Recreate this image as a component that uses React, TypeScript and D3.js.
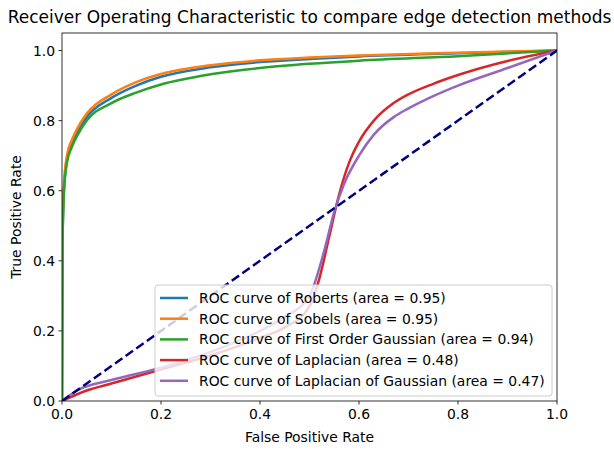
import React from "react";
import * as d3 from "d3";

const xTicks = [0, 0.2, 0.4, 0.6, 0.8, 1.0];
const yTicks = [0, 0.2, 0.4, 0.6, 0.8, 1.0];
const roberts: [number, number][] = [[0,0],[0.001,0.45],[0.004,0.6],[0.01,0.69],[0.02,0.735],[0.03,0.765],[0.05,0.81],[0.1,0.865],[0.15,0.9],[0.2,0.925],[0.3,0.952],[0.4,0.967],[0.5,0.976],[0.6,0.983],[0.8,0.992],[1,1]];
const sobels: [number, number][] = [[0,0],[0.001,0.47],[0.004,0.62],[0.01,0.7],[0.02,0.745],[0.03,0.775],[0.05,0.82],[0.1,0.875],[0.15,0.91],[0.2,0.933],[0.3,0.958],[0.4,0.972],[0.5,0.98],[0.6,0.986],[0.8,0.994],[1,1]];
const firstGauss: [number, number][] = [[0,0],[0.001,0.45],[0.004,0.6],[0.01,0.68],[0.02,0.725],[0.03,0.755],[0.05,0.8],[0.1,0.85],[0.15,0.88],[0.2,0.903],[0.3,0.932],[0.4,0.95],[0.5,0.962],[0.6,0.971],[0.8,0.984],[1,1]];
const laplacian: [number, number][] = [[0,0],[0.05,0.03],[0.1,0.05],[0.2,0.09],[0.3,0.13],[0.4,0.18],[0.45,0.21],[0.5,0.27],[0.52,0.35],[0.54,0.47],[0.56,0.59],[0.58,0.68],[0.6,0.74],[0.63,0.8],[0.67,0.85],[0.7,0.875],[0.75,0.905],[0.8,0.93],[0.9,0.97],[1,1]];
const lapGauss: [number, number][] = [[0,0],[0.03,0.03],[0.1,0.06],[0.2,0.095],[0.3,0.14],[0.4,0.2],[0.45,0.24],[0.5,0.3],[0.53,0.43],[0.55,0.54],[0.57,0.62],[0.6,0.7],[0.63,0.76],[0.67,0.81],[0.7,0.835],[0.75,0.87],[0.8,0.9],[0.9,0.95],[1,1]];
const series = [
  { name: "ROC curve of Roberts (area = 0.95)", data: roberts, color: "#1f77b4" },
  { name: "ROC curve of Sobels (area = 0.95)", data: sobels, color: "#ff7f0e" },
  { name: "ROC curve of First Order Gaussian (area = 0.94)", data: firstGauss, color: "#2ca02c" },
  { name: "ROC curve of Laplacian (area = 0.48)", data: laplacian, color: "#d62728" },
  { name: "ROC curve of Laplacian of Gaussian (area = 0.47)", data: lapGauss, color: "#9467bd" },
];

export default function App() {
  const L = 62, R = 557, T = 33, B = 401;
  const x = d3.scaleLinear().domain([0, 1]).range([L, R]);
  const y = d3.scaleLinear().domain([0, 1.05]).range([B, T]);
  const line = d3.line<[number, number]>().x(d => x(d[0])).y(d => y(d[1])).curve(d3.curveMonotoneX);
  const font = "DejaVu Sans";
  const fs = 13.9;
  return (
    <svg width={614} height={455} style={{ position: "absolute", left: 0, top: 0 }} fontFamily={font}>
      <rect width={614} height={455} fill="#fff" />
      <defs><clipPath id="c"><rect x={L} y={T} width={R - L} height={B - T} /></clipPath></defs>
      <g clipPath="url(#c)">
        {series.map(s => <path key={s.name} d={line(s.data)!} fill="none" stroke={s.color} strokeWidth={2.5} />)}
        <line x1={x(0)} y1={y(0)} x2={x(1)} y2={y(1)} stroke="navy" strokeWidth={2.5} strokeDasharray="9,4" />
      </g>
      <rect x={L} y={T} width={R - L} height={B - T} fill="none" stroke="#000" strokeWidth={0.8} />
      {xTicks.map(t => <g key={"x" + t}>
        <line x1={x(t)} x2={x(t)} y1={B} y2={B + 3.5} stroke="#000" strokeWidth={0.8} />
        <text x={x(t)} y={B + 18} fontSize={fs} textAnchor="middle">{t.toFixed(1)}</text>
      </g>)}
      {yTicks.map(t => <g key={"y" + t}>
        <line x1={L} x2={L - 3.5} y1={y(t)} y2={y(t)} stroke="#000" strokeWidth={0.8} />
        <text x={L - 7} y={y(t) + 5} fontSize={fs} textAnchor="end">{t.toFixed(1)}</text>
      </g>)}
      <text x={(L + R) / 2} y={442} fontSize={fs} textAnchor="middle">False Positive Rate</text>
      <text transform={`translate(21,${(T + B) / 2}) rotate(-90)`} fontSize={fs} textAnchor="middle">True Positive Rate</text>
      <text x={(L + R) / 2} y={23} fontSize={17} textAnchor="middle">Receiver Operating Characteristic to compare edge detection methods</text>
      <rect x={155} y={285} width={397} height={111} rx={3} fill="#fff" fillOpacity={0.8} stroke="#ccc" strokeWidth={1} />
      {series.map((s, i) => <g key={"l" + i}>
        <line x1={160} x2={188} y1={298 + i * 20.7} y2={298 + i * 20.7} stroke={s.color} strokeWidth={2.5} />
        <text x={199} y={303 + i * 20.7} fontSize={fs}>{s.name}</text>
      </g>)}
    </svg>
  );
}
